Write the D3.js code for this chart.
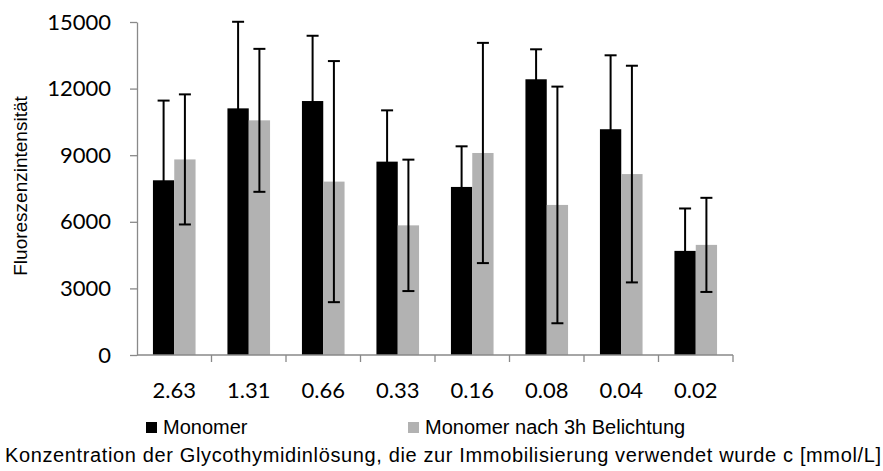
<!DOCTYPE html>
<html>
<head>
<meta charset="utf-8">
<script src="https://cdn.jsdelivr.net/npm/d3@7"></script>
<style>
  html, body { margin: 0; padding: 0; background: #fff; }
  svg { display: block; }
</style>
</head>
<body>
<svg id="chart" width="883" height="471"></svg>
<script>
const categories = ["2.63", "1.31", "0.66", "0.33", "0.16", "0.08", "0.04", "0.02"];
const seriesNames = ["Monomer", "Monomer nach 3h Belichtung"];
const monomer = [7870, 11110, 11440, 8710, 7570, 12420, 10170, 4690];
const monomerErr = [3590, 3900, 2940, 2310, 1830, 1350, 3330, 1910];
const belichtet = [8810, 10570, 7810, 5840, 9100, 6760, 8150, 4960];
const belichtetErr = [2930, 3220, 5430, 2960, 4960, 5330, 4880, 2120];
const yTicks = [0, 3000, 6000, 9000, 12000, 15000];
const colors = ["#000000", "#b2b2b2"];
const yTitle = "Fluoreszenzintensität";
const xTitle = "Konzentration der Glycothymidinlösung, die zur Immobilisierung verwendet wurde c [mmol/L]";

const svg = d3.select("#chart");
const plotLeft = 137, plotRight = 733, plotTop = 22, plotBottom = 355;
const axisColor = "#898989";

const y = d3.scaleLinear().domain([0, 15000]).range([plotBottom, plotTop]);
const pad = 0.428;
const x = d3.scaleBand().domain(categories).range([plotLeft, plotRight]).paddingInner(pad).paddingOuter(pad / 2);
const xs = d3.scaleBand().domain([0, 1]).range([0, x.bandwidth()]);

const series = [
  { vals: monomer, errs: monomerErr },
  { vals: belichtet, errs: belichtetErr }
];

// bars
series.forEach((s, si) => {
  svg.append("g").selectAll("rect").data(categories).join("rect")
    .attr("x", (c) => x(c) + xs(si))
    .attr("y", (c, i) => y(s.vals[i]))
    .attr("width", xs.bandwidth())
    .attr("height", (c, i) => y(0) - y(s.vals[i]))
    .attr("fill", colors[si]);
});

// error bars
series.forEach((s, si) => {
  const g = svg.append("g").attr("stroke", "#000").attr("stroke-width", 2).attr("fill", "none");
  categories.forEach((c, i) => {
    const cx = x(c) + xs(si) + xs.bandwidth() / 2;
    const hi = y(s.vals[i] + s.errs[i]);
    const lo = y(Math.max(0, s.vals[i] - s.errs[i]));
    g.append("line").attr("x1", cx).attr("x2", cx).attr("y1", hi).attr("y2", lo);
    g.append("line").attr("x1", cx - 6).attr("x2", cx + 6).attr("y1", hi).attr("y2", hi);
    g.append("line").attr("x1", cx - 6).attr("x2", cx + 6).attr("y1", lo).attr("y2", lo);
  });
});

// y axis
const yAxis = svg.append("g").attr("transform", `translate(${plotLeft},0)`)
  .call(d3.axisLeft(y).tickValues(yTicks).tickSize(7).tickSizeOuter(0).tickPadding(19).tickFormat(d3.format("d")));
yAxis.select(".domain").attr("stroke", axisColor).attr("stroke-width", 1.3);
yAxis.selectAll(".tick line").attr("stroke", axisColor).attr("stroke-width", 1.3);
yAxis.selectAll(".tick text").attr("font-family", "Lato, sans-serif").attr("font-size", 22).attr("fill", "#000");

// x axis
const xg = svg.append("g");
xg.append("line").attr("x1", plotLeft).attr("x2", plotRight).attr("y1", plotBottom).attr("y2", plotBottom)
  .attr("stroke", axisColor).attr("stroke-width", 1.3);
const step = x.step();
const bounds = categories.map((c) => x(c) - step * pad / 2).concat([plotRight]);
xg.selectAll("line.tk").data(bounds.slice(1)).join("line").attr("class", "tk")
  .attr("x1", (d) => d).attr("x2", (d) => d).attr("y1", plotBottom).attr("y2", plotBottom + 7)
  .attr("stroke", axisColor).attr("stroke-width", 1.3);
xg.selectAll("text").data(categories).join("text")
  .attr("x", (c) => x(c) + x.bandwidth() / 2)
  .attr("y", 397.5)
  .attr("text-anchor", "middle")
  .attr("font-family", "Lato, sans-serif").attr("font-size", 22).attr("fill", "#000")
  .text((c) => c);

// y title
svg.append("text")
  .attr("transform", "translate(26.5,186) rotate(-90)")
  .attr("text-anchor", "middle")
  .attr("font-family", "'Liberation Sans', Arial, sans-serif").attr("font-size", 19).attr("fill", "#000")
  .text(yTitle);

// legend
const legendX = [146, 408];
const lg = svg.append("g");
seriesNames.forEach((n, i) => {
  lg.append("rect").attr("x", legendX[i]).attr("y", 422).attr("width", 11).attr("height", 11).attr("fill", colors[i]);
  lg.append("text").attr("x", legendX[i] + 17).attr("y", 434)
    .attr("font-family", "'Liberation Sans', Arial, sans-serif").attr("font-size", 20).attr("fill", "#000")
    .text(n);
});

// x title
svg.append("text")
  .attr("x", 5).attr("y", 461.5)
  .attr("font-family", "'Liberation Sans', Arial, sans-serif").attr("font-size", 20).attr("fill", "#000")
  .attr("textLength", 876).attr("lengthAdjust", "spacing")
  .text(xTitle);
</script>
</body>
</html>
